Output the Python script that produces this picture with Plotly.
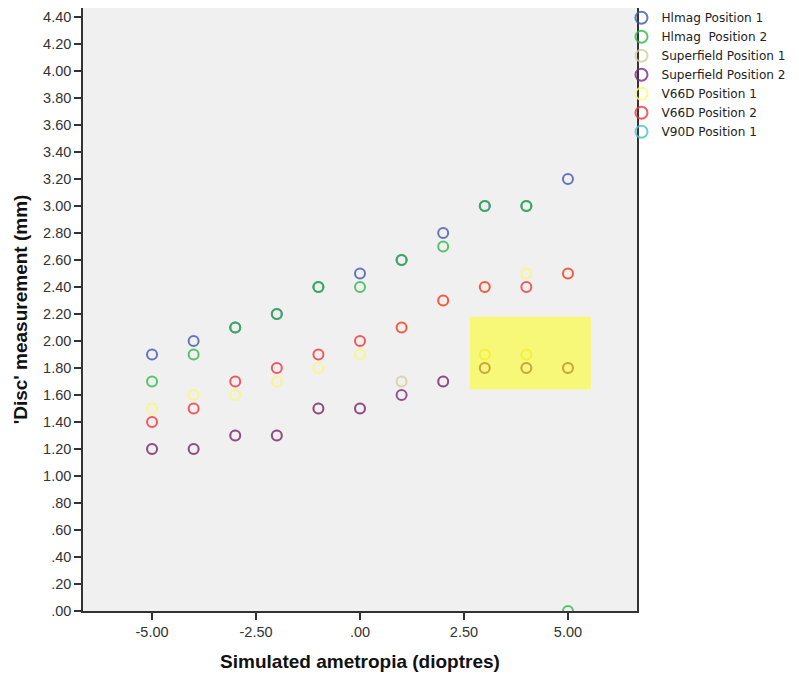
import plotly.graph_objects as go

# ---- data ----
x_vals = [-5, -4, -3, -2, -1, 0, 1, 2, 3, 4, 5]

hlmag_p1 = [1.90, 2.00, 2.10, 2.20, 2.40, 2.50, 2.60, 2.80, 3.00, 3.00, 3.20]
hlmag_p2 = [1.70, 1.90, 2.10, 2.20, 2.40, 2.40, 2.60, 2.70, 3.00, 3.00, 0.00]
superfield_p1 = [1.20, 1.20, 1.30, 1.30, 1.50, 1.50, 1.70, 1.70, 1.80, 1.80, 1.80]
superfield_p2 = [1.20, 1.20, 1.30, 1.30, 1.50, 1.50, 1.60, 1.70, 1.80, 1.80, 1.80]
v66d_p1 = [1.50, 1.60, 1.60, 1.70, 1.80, 1.90, 2.10, 2.30, 2.40, 2.50, 2.50]
v66d_p1_extra_x = [3, 4]
v66d_p1_extra_y = [1.90, 1.90]
v66d_p2 = [1.40, 1.50, 1.70, 1.80, 1.90, 2.00, 2.10, 2.30, 2.40, 2.40, 2.50]
v90d_p1_x = [None]
v90d_p1 = [None]

series_names = ["Hlmag Position 1", "Hlmag\u00a0 Position 2", "Superfield Position 1",
                "Superfield Position 2", "V66D Position 1", "V66D Position 2", "V90D Position 1"]
series_colors = ["#3E58AC", "#2EB848", "#D3CE97", "#7C287D", "#FBF873", "#EF3338", "#48C2C5"]

y_tickvals = [0.0, 0.2, 0.4, 0.6, 0.8, 1.0, 1.2, 1.4, 1.6, 1.8, 2.0, 2.2, 2.4, 2.6, 2.8,
              3.0, 3.2, 3.4, 3.6, 3.8, 4.0, 4.2, 4.4]
y_ticktext = [".00", ".20", ".40", ".60", ".80", "1.00", "1.20", "1.40", "1.60", "1.80", "2.00",
              "2.20", "2.40", "2.60", "2.80", "3.00", "3.20", "3.40", "3.60", "3.80", "4.00",
              "4.20", "4.40"]
x_tickvals = [-5, -2.5, 0, 2.5, 5]
x_ticktext = ["-5.00", "-2.50", ".00", "2.50", "5.00"]

highlight_x = [2.64, 5.55]
highlight_y = [1.64, 2.18]

# ---- figure ----
fig = go.Figure()

series_data = [
    (x_vals, hlmag_p1),
    (x_vals, hlmag_p2),
    (x_vals, superfield_p1),
    (x_vals, superfield_p2),
    (x_vals, v66d_p1),
    (x_vals, v66d_p2),
    (v90d_p1_x, v90d_p1),
]

for (xs, ys), name, col in zip(series_data, series_names, series_colors):
    fig.add_trace(go.Scatter(
        x=xs, y=ys, mode="markers", name=name,
        marker=dict(symbol="circle-open", size=10, color=col,
                    line=dict(width=2, color=col), opacity=0.8),
    ))

fig.add_trace(go.Scatter(
    x=v66d_p1_extra_x, y=v66d_p1_extra_y, mode="markers", name=series_names[4],
    showlegend=False,
    marker=dict(symbol="circle-open", size=10, color="#E2DC40",
                line=dict(width=2, color="#E2DC40"), opacity=0.7),
))

fig.add_shape(type="rect", xref="x", yref="y",
              x0=highlight_x[0], x1=highlight_x[1], y0=highlight_y[0], y1=highlight_y[1],
              fillcolor="rgb(255,255,0)", opacity=0.5, line=dict(width=0), layer="above")

fig.update_layout(
    width=791, height=669,
    margin=dict(l=75, r=162, t=0, b=66, autoexpand=False),
    paper_bgcolor="white",
    plot_bgcolor="#F0F0F0",
    font=dict(family="Liberation Sans, Arial, sans-serif", color="#222222"),
    showlegend=True,
    legend=dict(x=0.972, xanchor="left", y=1.008, yanchor="top",
                font=dict(size=12.1, color="#222222", family="DejaVu Sans, sans-serif"),
                bgcolor="rgba(0,0,0,0)", borderwidth=0,
                tracegroupgap=0, itemsizing="constant"),
)

fig.update_xaxes(
    range=[-6.66, 6.66],
    tickvals=x_tickvals, ticktext=x_ticktext,
    ticks="outside", ticklen=7, tickwidth=1.5, tickcolor="#333333",
    tickfont=dict(size=14.5, color="#333333"),
    showgrid=False, zeroline=False, automargin=False,
    showline=True, linecolor="#333333", linewidth=1.5, mirror=True,
    title=dict(text="<b>Simulated ametropia (dioptres)</b>", font=dict(size=19, color="#111111"),
               standoff=16),
)
fig.update_yaxes(
    range=[0, 4.467],
    tickvals=y_tickvals, ticktext=y_ticktext,
    ticks="outside", ticklen=7, tickwidth=1.5, tickcolor="#333333",
    tickfont=dict(size=14.5, color="#333333"),
    showgrid=False, zeroline=False, automargin=False,
    showline=True, linecolor="#333333", linewidth=1.5, mirror=True,
    title=dict(text="<b>'Disc' measurement (mm)</b>", font=dict(size=19, color="#111111"),
               standoff=10),
)

fig.write_html("out.html")
